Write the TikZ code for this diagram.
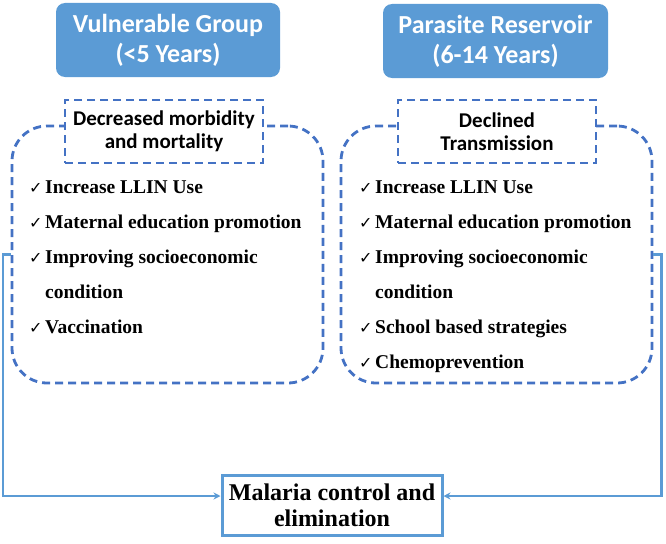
\documentclass[tikz,border=0pt]{standalone}
\usepackage{fontspec}
\setmainfont{Liberation Serif}
\newfontfamily\headfont{Carlito}
\newfontfamily\symfont{DejaVu Sans}
\usetikzlibrary{arrows.meta}
\definecolor{hdrblue}{HTML}{5B9BD5}
\definecolor{dashblue}{HTML}{4472C4}
\newcommand{\chk}{\makebox[16pt][l]{\symfont\bfseries\fontsize{16}{16}\selectfont ✓}}

\begin{document}
\begin{tikzpicture}[x=1pt,y=-1pt,
	hdr/.style={fill=hdrblue,text=white,rounded corners=9pt,minimum width=224pt,minimum height=74pt,align=center,font=\headfont\bfseries\fontsize{26}{30}\selectfont},
	goal/.style={draw=dashblue,line width=2.8pt,dash pattern=on 8pt off 5pt,fill=white,minimum width=198pt,minimum height=63pt,align=center,font=\headfont\bfseries\fontsize{21}{23}\selectfont},
	panel/.style={draw=dashblue,line width=2.8pt,dash pattern=on 8pt off 5pt,rounded corners=35pt,minimum height=257pt},
	items/.style={anchor=base west,inner sep=0pt,align=left,font=\bfseries\fontsize{19.5}{35}\selectfont},
	conn/.style={draw=hdrblue,line width=2.2pt,-{Stealth[length=7pt,width=7pt]}}]
	\useasboundingbox (0,0) rectangle (666,543);
	\node[hdr] (vg) at (168,40) {Vulnerable Group\\(<5 Years)};
	\node[hdr,minimum width=225pt] (pr) at (495.5,41) {Parasite Reservoir\\(6-14 Years)};
	\node[panel,minimum width=311pt] (lbox) at (167.5,254.5) {};
	\node[panel,minimum width=311pt] (rbox) at (496.5,254.5) {};
	\node[goal] (lgoal) at (164,131.5) {Decreased morbidity\\and mortality};
	\node[goal] (rgoal) at (497,131.5) {Declined\\Transmission};
	\node[items] (llist) at (29,333) {\chk Increase LLIN Use\\\chk Maternal education promotion\\\chk Improving socioeconomic\\\hspace*{16pt}condition\\\chk Vaccination};
	\node[items] (rlist) at (359,368) {\chk Increase LLIN Use\\\chk Maternal education promotion\\\chk Improving socioeconomic\\\hspace*{16pt}condition\\\chk School based strategies\\\chk Chemoprevention};
	\node[draw=hdrblue,line width=3pt,minimum width=220pt,minimum height=60pt,align=center,font=\bfseries\fontsize{24}{26}\selectfont] (mc) at (332,505) {Malaria control and\\elimination};
	\draw[conn] (lbox.west) -- ++(-8,0) |- ([yshift=9pt]mc.west);
	\draw[conn] (rbox.east) -- ++(8,0) |- ([yshift=9pt]mc.east);
\end{tikzpicture}
\end{document}
